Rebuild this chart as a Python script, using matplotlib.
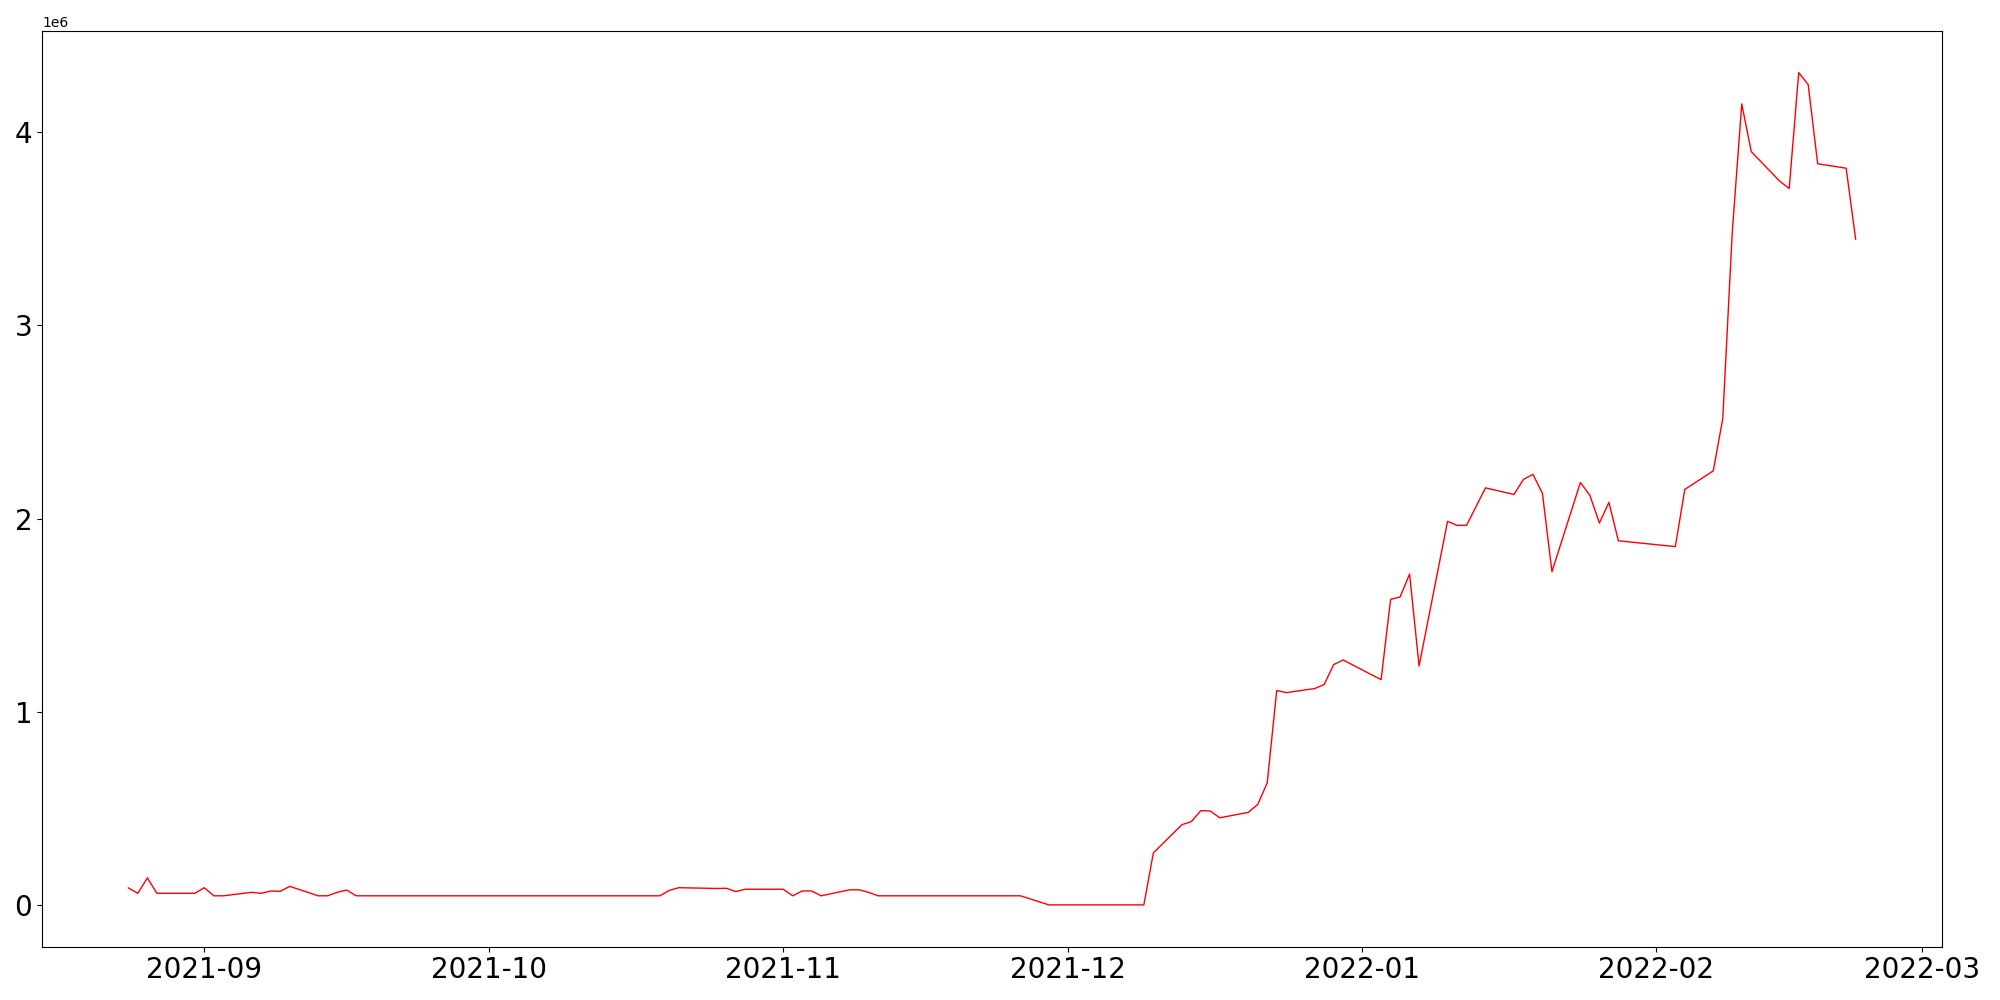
import pandas as pd
import matplotlib
matplotlib.use("Agg")
import matplotlib.pyplot as plt

# 日期与数值（从图上读取的拐点）
dates = [
    "2021-08-24", "2021-08-25", "2021-08-26", "2021-08-27", "2021-08-31",
    "2021-09-01", "2021-09-02", "2021-09-03", "2021-09-06", "2021-09-07",
    "2021-09-08", "2021-09-09", "2021-09-10", "2021-09-13", "2021-09-14",
    "2021-09-15", "2021-09-16", "2021-09-17", "2021-10-19", "2021-10-20",
    "2021-10-21", "2021-10-25", "2021-10-26", "2021-10-27", "2021-10-28",
    "2021-11-01", "2021-11-02", "2021-11-03", "2021-11-04", "2021-11-05",
    "2021-11-08", "2021-11-09", "2021-11-10", "2021-11-11", "2021-11-26",
    "2021-11-29", "2021-12-09", "2021-12-10", "2021-12-13", "2021-12-14",
    "2021-12-15", "2021-12-16", "2021-12-17", "2021-12-20", "2021-12-21",
    "2021-12-22", "2021-12-23", "2021-12-24", "2021-12-27", "2021-12-28",
    "2021-12-29", "2021-12-30", "2022-01-03", "2022-01-04", "2022-01-05",
    "2022-01-06", "2022-01-07", "2022-01-10", "2022-01-11", "2022-01-12",
    "2022-01-14", "2022-01-17", "2022-01-18", "2022-01-19", "2022-01-20",
    "2022-01-21", "2022-01-24", "2022-01-25", "2022-01-26", "2022-01-27",
    "2022-01-28", "2022-02-03", "2022-02-04", "2022-02-07", "2022-02-08",
    "2022-02-09", "2022-02-10", "2022-02-11", "2022-02-14", "2022-02-15",
    "2022-02-16", "2022-02-17", "2022-02-18", "2022-02-21", "2022-02-22",
]
values = [
    88000, 60000, 140000, 60000, 60000,
    89000, 47000, 47000, 65000, 60000,
    72000, 70000, 96000, 47000, 47000,
    65000, 77000, 47000, 47000, 75000,
    89000, 85000, 86000, 69000, 81000,
    81000, 47000, 72000, 72000, 47000,
    78000, 78000, 65000, 47000, 47000,
    0, 0, 269000, 415000, 431000,
    488000, 486000, 451000, 479000, 520000,
    632000, 1110000, 1099000, 1120000, 1141000,
    1244000, 1268000, 1166000, 1582000, 1594000,
    1713000, 1237000, 1986000, 1965000, 1965000,
    2159000, 2125000, 2203000, 2229000, 2130000,
    1725000, 2187000, 2120000, 1977000, 2084000,
    1885000, 1855000, 2151000, 2247000, 2518000,
    3483000, 4147000, 3900000, 3747000, 3709000,
    4309000, 4247000, 3837000, 3814000, 3447000,
]

x = pd.to_datetime(dates)

fig = plt.figure(figsize=(20, 10), dpi=100)
ax = fig.add_subplot(111)
ax.plot(x, values, color="red", linewidth=1.0)
ax.tick_params(axis="both", labelsize=20)
plt.subplots_adjust(left=0.021, right=0.971, bottom=0.0535, top=0.969)
plt.savefig("out.png")
